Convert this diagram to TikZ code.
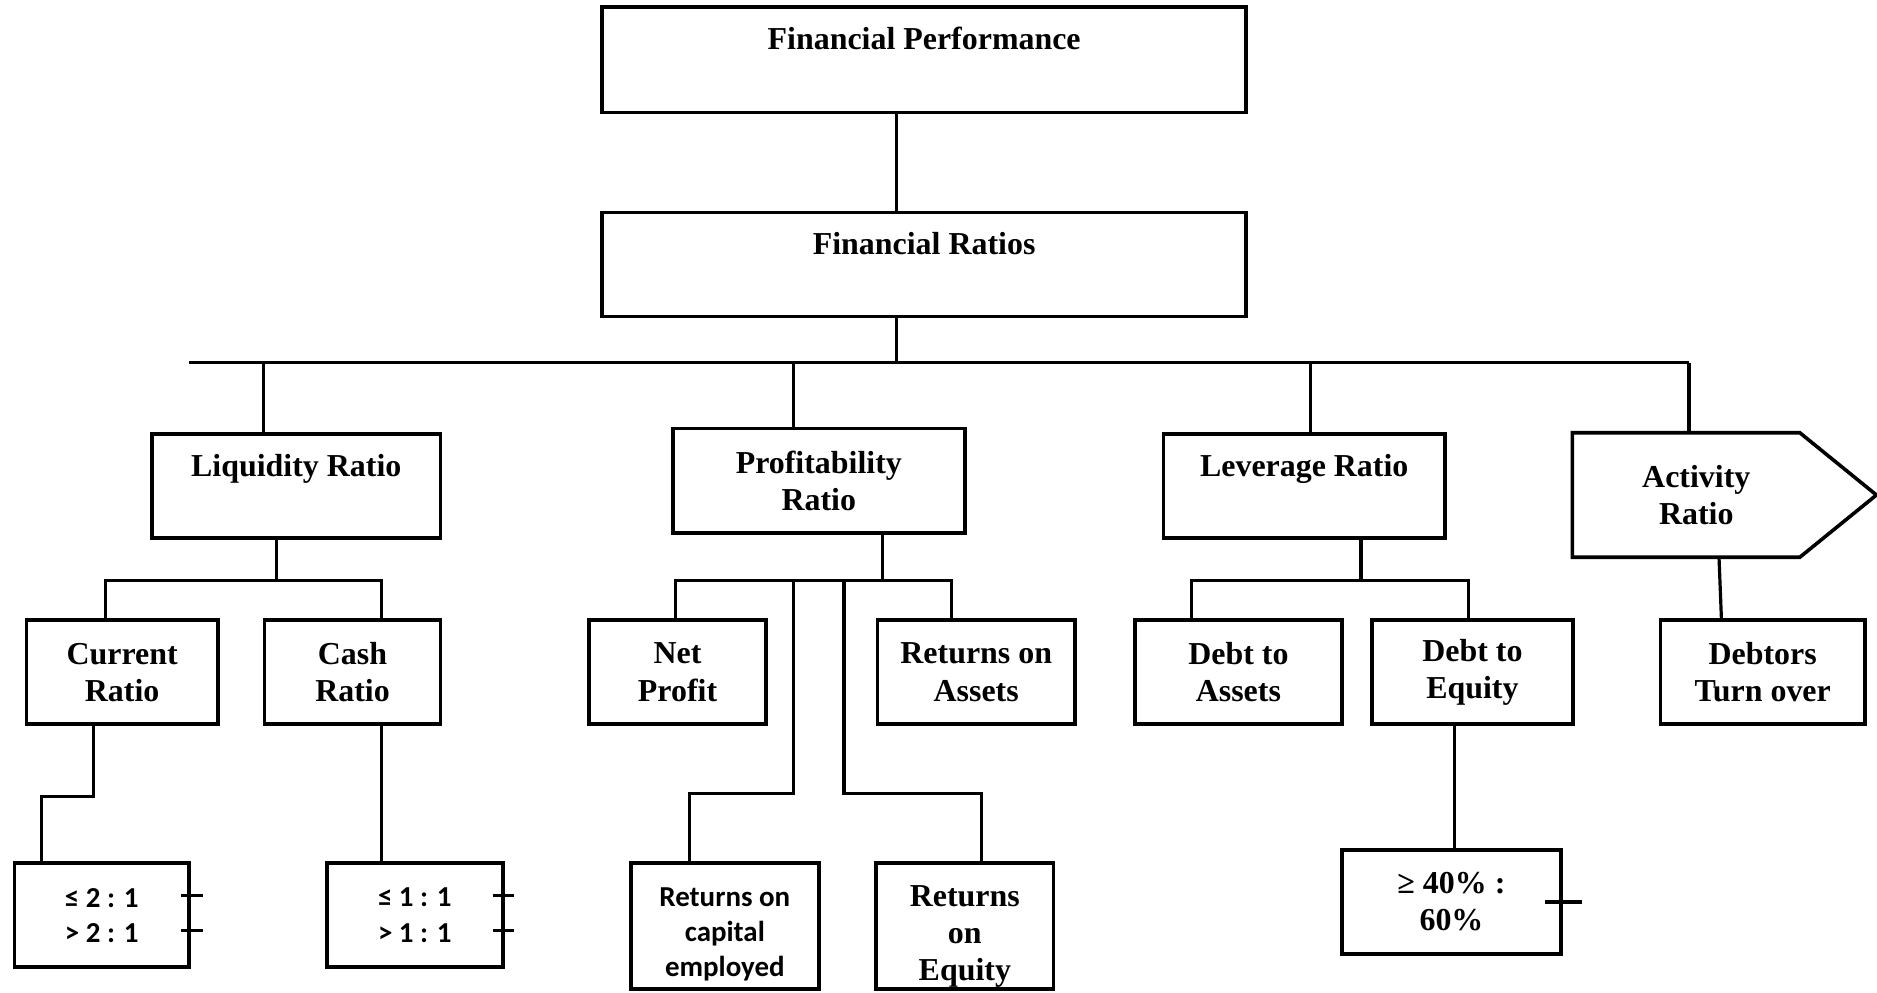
\documentclass[tikz,border=0pt]{standalone}
\usepackage{fontspec}
\setmainfont{Liberation Serif}
\newfontfamily\calibfont{Carlito}

\begin{document}
\begin{tikzpicture}[x=0.6pt,y=-0.6pt,
  box/.style={draw,line width=1.8pt,align=center,inner sep=2pt,
    font=\fontsize{16}{18.6}\selectfont\bfseries},
  headbox/.style={box,text height=21pt,text depth=31pt,inner ysep=0pt},
  smallbox/.style={box,font=\calibfont\fontsize{14.5}{17.6}\selectfont\bfseries},
  link/.style={line width=1.6pt},
  rim/.style={line width=1.8pt}]
  \useasboundingbox (0,0) rectangle (1568,829);

  \node[headbox,minimum width=322.8pt,minimum height=52.8pt] (fp) at (772,50) {Financial Performance};
  \node[headbox,minimum width=322.8pt,minimum height=51.6pt] (fr) at (772,221) {Financial Ratios};

  \node[headbox,minimum width=144.6pt,minimum height=51.6pt] (liq) at (247.5,406) {Liquidity Ratio};
  \node[box,minimum width=146.4pt,minimum height=52.2pt] (prof) at (684,401.5) {Profitability\\Ratio};
  \node[headbox,minimum width=141pt,minimum height=51.6pt] (lev) at (1089.5,406) {Leverage Ratio};
  \node[box,draw=none,minimum width=112.2pt,minimum height=60.6pt] (act) at (1417,413.5) {Activity\\Ratio};
  \draw[rim] ([xshift=-5.1pt]act.north west) -- ([xshift=-5.1pt]act.north east)
    -- ([xshift=33.3pt]act.east) -- ([xshift=-5.1pt]act.south east)
    -- ([xshift=-5.1pt]act.south west) -- cycle;

  \node[box,minimum width=96pt,minimum height=52.2pt] (cur) at (102,561.5) {Current\\Ratio};
  \node[box,minimum width=88.2pt,minimum height=52.2pt] (cash) at (294.5,561.5) {Cash\\Ratio};
  \node[box,minimum width=88.8pt,minimum height=52.2pt] (np) at (566,561.5) {Net\\Profit};
  \node[box,minimum width=99pt,minimum height=52.2pt] (roa) at (815.5,561.5) {Returns on\\Assets};
  \node[box,minimum width=103.8pt,minimum height=52.2pt] (dta) at (1034.5,561.5) {Debt to\\Assets};
  \node[box,minimum width=100.8pt,minimum height=52.2pt] (dte) at (1230,561.5) {Debt to\\Equity};
  \node[box,minimum width=102.6pt,minimum height=52.2pt] (dto) at (1472.5,561.5) {Debtors\\Turn over};

  \node[smallbox,minimum width=87.6pt,minimum height=52.2pt] (cr) at (85,764.5) {≤ 2 : 1\\> 2 : 1};
  \node[smallbox,minimum width=88.2pt,minimum height=52.2pt] (kr) at (346.5,764.5) {≤ 1 : 1\\> 1 : 1};
  \node[smallbox,minimum width=94.2pt,minimum height=63pt] (rce) at (605.5,773.5) {\rule{0pt}{18pt}Returns on\\capital\\employed};
  \node[box,inner ysep=0pt,minimum width=88.8pt,minimum height=63pt] (roe) at (806,773.5) {\rule{0pt}{21pt}Returns\\on\\Equity};
  \node[box,minimum width=109.8pt,minimum height=52.2pt] (der) at (1212.5,753.5) {≥ 40\% :\\60\%};

  \coordinate (trunk) at (749,303);
  \coordinate (busL) at (158,303);
  \coordinate (busR) at (1411,303);
  \coordinate (lbus) at (231,485);
  \coordinate (pbus) at (737,485);
  \coordinate (vbus) at (1137,485);
  \coordinate (pk1) at (663,663);
  \coordinate (pk2) at (705,663);

  \draw[link] (fp.south -| trunk) -- (fr.north -| trunk);
  \draw[link] (fr.south -| trunk) -- (trunk);
  \draw[link] (busL) -- (busR);
  \draw[link] ([xshift=-16.5pt]liq.north) -- ([xshift=-16.5pt]liq.north |- trunk);
  \draw[link] ([xshift=-12.6pt]prof.north) -- ([xshift=-12.6pt]prof.north |- trunk);
  \draw[link] ([xshift=3.3pt]lev.north) -- ([xshift=3.3pt]lev.north |- trunk);
  \draw[link] (busR) -- (busR |- act.north);

  \draw[link] (liq.south -| lbus) -- (lbus);
  \draw[link] ([xshift=-8.4pt]cur.north) |- (lbus) -| ([xshift=14.7pt]cash.north);
  \draw[link] ([xshift=-14.4pt]cur.south) -- ++(0,-35.4pt) -| ([xshift=-30pt]cr.north);
  \draw[link] ([xshift=14.7pt]cash.south) -- ([xshift=14.7pt]cash.south |- kr.north);

  \draw[link] (prof.south -| pbus) -- (pbus);
  \draw[link] ([xshift=-1.2pt]np.north) |- (pbus) -| ([xshift=-12.3pt]roa.north);
  \draw[link] ([xshift=-17.7pt]rce.north) |- (pk1) -- (pk1 |- pbus);
  \draw[link] ([xshift=8.4pt]roe.north) |- (pk2) -- (pk2 |- pbus);

  \draw[link] (lev.south -| vbus) -- (vbus);
  \draw[link] ([xshift=-23.7pt]dta.north) |- (vbus) -| ([xshift=-1.8pt]dte.north);
  \draw[link] ([xshift=-9pt]dte.south) -- ([xshift=-9pt]dte.south |- der.north);

  \draw[link] ([xshift=11.4pt]act.south) -- ([xshift=-20.7pt]dto.north);

  \draw[link] ([xshift=-4.8pt,yshift=9.9pt]cr.east) -- ++(10.8pt,0);
  \draw[link] ([xshift=-4.8pt,yshift=-7.5pt]cr.east) -- ++(10.8pt,0);
  \draw[link] ([xshift=-6pt,yshift=9.9pt]kr.east) -- ++(10.8pt,0);
  \draw[link] ([xshift=-6pt,yshift=-7.5pt]kr.east) -- ++(10.8pt,0);
  \draw[link] ([xshift=-9pt]der.east) -- ++(18.6pt,0);
\end{tikzpicture}
\end{document}
